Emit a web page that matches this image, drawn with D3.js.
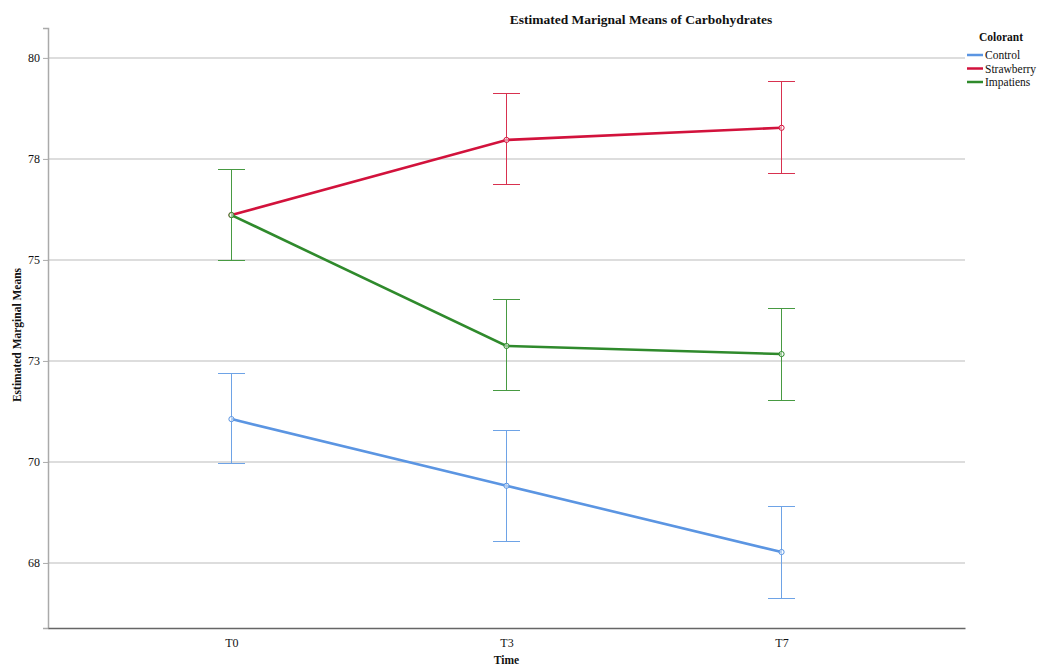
<!DOCTYPE html>
<html>
<head>
<meta charset="utf-8">
<script src="https://cdn.jsdelivr.net/npm/d3@7"></script>
<style>
  body { margin: 0; background: #fff; }
  text { font-family: "Liberation Serif", "Times New Roman", serif; fill: #111; }
</style>
</head>
<body>
<div class="vis-holder"></div>
<script>
// data
var times = ["T0", "T3", "T7"];
var groups = ["Control", "Strawberry", "Impatiens"];
var colors = ["#5b95e2", "#d2123c", "#2f8a2c"];
var barColors = ["#6ea3e6", "#d8314f", "#479a42"];

var controlMean = [71.06, 69.41, 67.77];
var controlLow = [69.95, 68.02, 66.63];
var controlHigh = [72.20, 70.79, 68.89];

var strawberryMean = [76.11, 77.97, 78.27];
var strawberryLow = [74.98, 76.86, 77.13];
var strawberryHigh = [77.23, 79.11, 79.41];

var impatiensMean = [76.11, 72.87, 72.67];
var impatiensLow = [74.98, 71.76, 71.53];
var impatiensHigh = [77.23, 74.01, 73.79];

var yTicks = [80, 77.5, 75, 72.5, 70, 67.5];
var yTickLabels = ["80", "78", "75", "73", "70", "68"];

var series = [
  { name: groups[0], color: colors[0], bar: barColors[0], mean: controlMean, low: controlLow, high: controlHigh },
  { name: groups[1], color: colors[1], bar: barColors[1], mean: strawberryMean, low: strawberryLow, high: strawberryHigh },
  { name: groups[2], color: colors[2], bar: barColors[2], mean: impatiensMean, low: impatiensLow, high: impatiensHigh }
];

var width = 1041;
var height = 671;
var margin = { top: 28, bottom: 43, left: 48, right: 76 };

var svg = d3.select(".vis-holder")
  .append("svg")
  .attr("width", width)
  .attr("height", height);

var xScale = d3.scalePoint()
  .domain(times)
  .range([margin.left, width - margin.right])
  .padding(0.667);

var yScale = d3.scaleLinear()
  .domain([65.89, 80.74])
  .range([height - margin.bottom, margin.top]);

// gridlines
svg.append("g")
  .selectAll("line")
  .data(yTicks)
  .join("line")
  .attr("x1", margin.left)
  .attr("x2", width - margin.right)
  .attr("y1", function(d) { return yScale(d); })
  .attr("y2", function(d) { return yScale(d); })
  .attr("stroke", "#d2d2d2")
  .attr("stroke-width", 1.5);

// y axis
var yAxis = d3.axisLeft(yScale)
  .tickValues(yTicks)
  .tickFormat(function(d, i) { return yTickLabels[i]; })
  .tickSize(5)
  .tickPadding(3);
var yg = svg.append("g")
  .attr("transform", "translate(" + margin.left + ",0)")
  .call(yAxis);
yg.select(".domain").attr("stroke", "#aaa").attr("stroke-width", 1.5);
yg.selectAll(".tick line").attr("stroke", "#aaa");
yg.selectAll(".tick text").style("font-size", "12px").attr("fill", "#111");

// x axis
var xAxis = d3.axisBottom(xScale).tickSize(0).tickPadding(10);
var xg = svg.append("g")
  .attr("transform", "translate(0," + (height - margin.bottom) + ")")
  .call(xAxis);
xg.select(".domain").attr("stroke", "#666").attr("stroke-width", 1.5);
xg.selectAll(".tick text").style("font-size", "12px").attr("fill", "#111");

var line = d3.line()
  .x(function(d, i) { return xScale(times[i]); })
  .y(function(d) { return yScale(d); });

series.forEach(function(s) {
  var g = svg.append("g");
  var bars = g.append("g").attr("shape-rendering", "crispEdges");
  var cap = 13.5;
  // error bars
  bars.selectAll(".eb")
    .data(times)
    .join("line")
    .attr("x1", function(d) { return xScale(d); })
    .attr("x2", function(d) { return xScale(d); })
    .attr("y1", function(d, i) { return yScale(s.low[i]); })
    .attr("y2", function(d, i) { return yScale(s.high[i]); })
    .attr("stroke", s.bar).attr("stroke-width", 1);
  bars.selectAll(".capHi")
    .data(times)
    .join("line")
    .attr("x1", function(d) { return xScale(d) - cap; })
    .attr("x2", function(d) { return xScale(d) + cap; })
    .attr("y1", function(d, i) { return yScale(s.high[i]); })
    .attr("y2", function(d, i) { return yScale(s.high[i]); })
    .attr("stroke", s.bar).attr("stroke-width", 1);
  bars.selectAll(".capLo")
    .data(times)
    .join("line")
    .attr("x1", function(d) { return xScale(d) - cap; })
    .attr("x2", function(d) { return xScale(d) + cap; })
    .attr("y1", function(d, i) { return yScale(s.low[i]); })
    .attr("y2", function(d, i) { return yScale(s.low[i]); })
    .attr("stroke", s.bar).attr("stroke-width", 1);
  // mean line
  g.append("path")
    .attr("d", line(s.mean))
    .attr("fill", "none")
    .attr("stroke", s.color)
    .attr("stroke-width", 2.6);
  g.selectAll("circle")
    .data(s.mean)
    .join("circle")
    .attr("cx", function(d, i) { return xScale(times[i]); })
    .attr("cy", function(d) { return yScale(d); })
    .attr("r", 2.6)
    .attr("fill", "#fff")
    .attr("fill-opacity", 0.5)
    .attr("stroke", s.color)
    .attr("stroke-width", 1);
});

// titles
svg.append("text")
  .attr("x", 641)
  .attr("y", 24)
  .attr("text-anchor", "middle")
  .style("font-size", "13.5px")
  .style("font-weight", "bold")
  .text("Estimated Marignal Means of Carbohydrates");

svg.append("text")
  .attr("x", xScale("T3"))
  .attr("y", 664)
  .attr("text-anchor", "middle")
  .style("font-size", "11.5px")
  .style("font-weight", "bold")
  .text("Time");

svg.append("text")
  .attr("transform", "rotate(-90)")
  .attr("x", -335)
  .attr("y", 21)
  .attr("text-anchor", "middle")
  .style("font-size", "11.5px")
  .style("font-weight", "bold")
  .text("Estimated Marginal Means");

// legend
var legend = svg.append("g").attr("transform", "translate(967,0)");
legend.append("text")
  .attr("x", 12)
  .attr("y", 41)
  .style("font-size", "11.5px")
  .style("font-weight", "bold")
  .text("Colorant");
var items = legend.selectAll(".item")
  .data(series)
  .join("g")
  .attr("transform", function(d, i) { return "translate(0," + (55 + i * 13.5) + ")"; });
items.append("line")
  .attr("x1", 0).attr("x2", 16)
  .attr("stroke", function(d) { return d.color; })
  .attr("stroke-width", 2.5);
items.append("text")
  .attr("x", 18)
  .attr("y", 4)
  .style("font-size", "11.5px")
  .text(function(d) { return d.name; });
</script>
</body>
</html>
